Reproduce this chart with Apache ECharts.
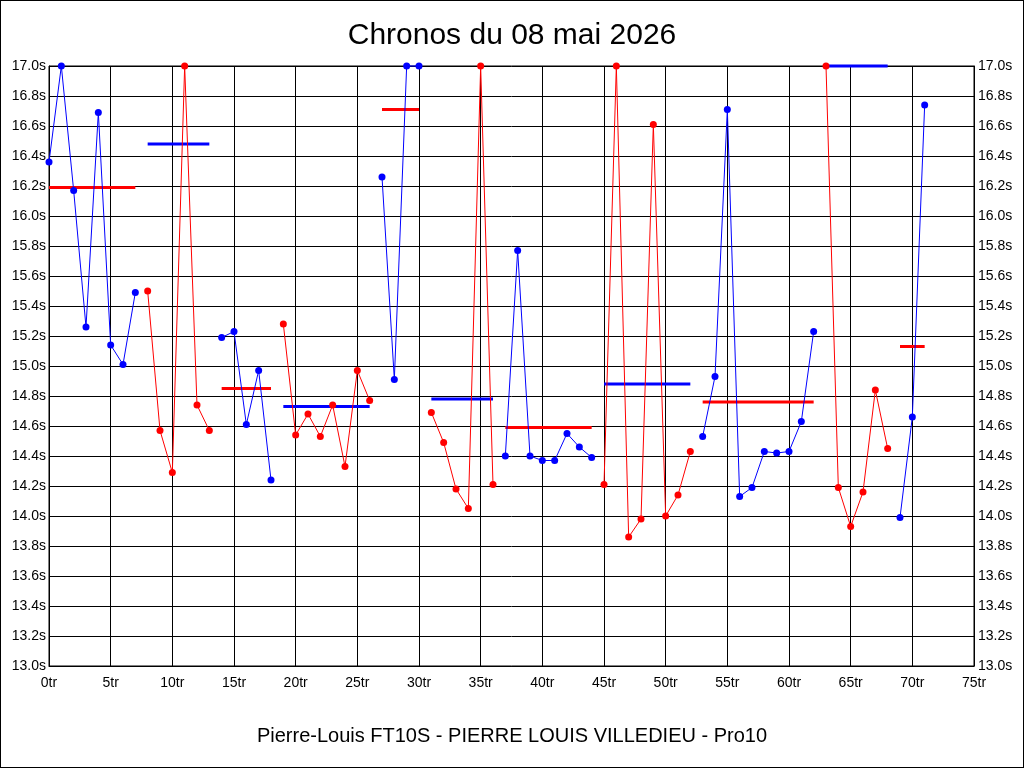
<!DOCTYPE html>
<html>
<head>
<meta charset="utf-8">
<script src="https://cdn.jsdelivr.net/npm/echarts@6/dist/echarts.min.js"></script>
<style>
html,body{margin:0;padding:0;background:#fff;}
#frame{width:1024px;height:768px;box-sizing:border-box;border:1px solid #000;position:relative;}
#chart{position:absolute;left:-1px;top:-1px;width:1024px;height:768px;}
</style>
</head>
<body>
<div id="frame"><div id="chart"></div></div>
<script>
// Lap times (seconds) for laps 0..71, capped at 17.0 on the chart
const lapTimes = [
  16.36, 17.00, 16.17, 15.26, 16.69, 15.14, 15.01, 15.49,
  15.50, 14.57, 14.29, 17.00, 14.74, 14.57,
  15.19, 15.23, 14.61, 14.97, 14.24,
  15.28, 14.54, 14.68, 14.53, 14.74, 14.33, 14.97, 14.77,
  16.26, 14.91, 17.00, 17.00,
  14.69, 14.49, 14.18, 14.05, 17.00, 14.21,
  14.40, 15.77, 14.40, 14.37, 14.37, 14.55, 14.46, 14.39,
  14.21, 17.00, 13.86, 13.98, 16.61, 14.00, 14.14, 14.43,
  14.53, 14.93, 16.71, 14.13, 14.19, 14.43, 14.42, 14.43, 14.63, 15.23,
  17.00, 14.19, 13.93, 14.16, 14.84, 14.45,
  13.99, 14.66, 16.74
];
// First lap of each stint
const stintStarts = [0, 8, 14, 19, 27, 31, 37, 45, 53, 63, 69];
// Average line value of each stint
const stintAverages = [16.19, 16.48, 14.85, 14.73, 16.71, 14.78, 14.59, 14.88, 14.76, 17.00, 15.13];
const xTicks = {min: 0, max: 75, interval: 5, suffix: 'tr'};
const yTicks = {min: 13.0, max: 17.0, interval: 0.2, suffix: 's'};
const titleText = 'Chronos du 08 mai 2026';
const footerText = 'Pierre-Louis FT10S - PIERRE LOUIS VILLEDIEU - Pro10';

const BLUE = '#0000ff', RED = '#ff0000';
const series = [];
for (let i = 0; i < stintStarts.length; i++) {
  const s = stintStarts[i];
  const e = (i + 1 < stintStarts.length ? stintStarts[i + 1] : lapTimes.length) - 1;
  const col = i % 2 === 0 ? BLUE : RED;
  const avgCol = i % 2 === 0 ? RED : BLUE;
  const pts = [];
  for (let l = s; l <= e; l++) pts.push([l, lapTimes[l]]);
  series.push({
    type: 'line', data: pts, symbol: 'circle', symbolSize: 7,
    lineStyle: {color: col, width: 1}, itemStyle: {color: col},
    animation: false, clip: false, silent: true, z: 3
  });
  series.push({
    type: 'line', data: [[s, stintAverages[i]], [e, stintAverages[i]]], symbol: 'none',
    lineStyle: {color: avgCol, width: 3}, animation: false, clip: false, silent: true, z: 2
  });
}

const FONT = 'Liberation Sans, Arial, sans-serif';
const labelFont = {color: '#000', fontSize: 14, fontFamily: FONT};
const yAxisBase = {
  type: 'value', min: yTicks.min, max: yTicks.max, interval: yTicks.interval,
  axisLine: {show: true, lineStyle: {color: '#000', width: 1}},
  axisTick: {show: false},
  splitLine: {show: true, lineStyle: {color: '#000', width: 1}},
  axisLabel: Object.assign({margin: 3, formatter: v => v.toFixed(1) + yTicks.suffix}, labelFont)
};

const chart = echarts.init(document.getElementById('chart'), null, {renderer: 'canvas'});
chart.setOption({
  backgroundColor: 'transparent',
  animation: false,
  title: [
    {text: titleText, left: 'center', top: 16,
     textStyle: {fontSize: 30, fontWeight: 'normal', color: '#000', fontFamily: FONT}},
    {text: footerText, left: 'center', top: 721,
     textStyle: {fontSize: 20, fontWeight: 'normal', color: '#000', fontFamily: FONT}}
  ],
  grid: {left: 49, right: 50, top: 66, bottom: 102, show: true, borderColor: '#000', borderWidth: 1},
  xAxis: {
    type: 'value', min: xTicks.min, max: xTicks.max, interval: xTicks.interval,
    axisLine: {show: true, onZero: false, lineStyle: {color: '#000'}},
    axisTick: {show: false},
    splitLine: {show: true, lineStyle: {color: '#000', width: 1}},
    axisLabel: Object.assign({margin: 10, formatter: v => v + xTicks.suffix}, labelFont)
  },
  yAxis: [
    Object.assign({position: 'left'}, yAxisBase),
    Object.assign({position: 'right'}, yAxisBase, {splitLine: {show: false},
      axisLabel: Object.assign({margin: 4, formatter: v => v.toFixed(1) + yTicks.suffix}, labelFont)})
  ],
  series: series
});
</script>
</body>
</html>
